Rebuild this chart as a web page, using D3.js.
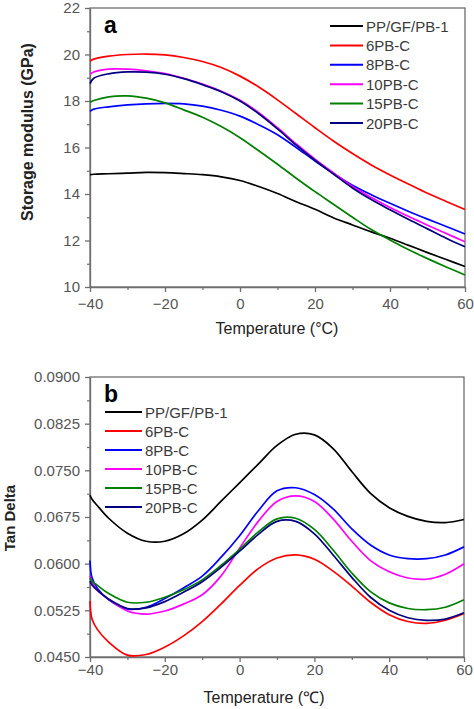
<!DOCTYPE html>
<html>
<head>
<meta charset="utf-8">
<script src="https://cdn.jsdelivr.net/npm/d3@7"></script>
<style>
  html, body { margin: 0; padding: 0; background: #fff; }
  svg { display: block; font-family: "Liberation Sans", Arial, sans-serif; }
</style>
</head>
<body>
<svg id="chart" width="474" height="709"></svg>
<script>
// ---------- DATA ----------
const seriesNames = ["PP/GF/PB-1", "6PB-C", "8PB-C", "10PB-C", "15PB-C", "20PB-C"];
const seriesColors = ["#000000", "#ff0000", "#0000ff", "#ff00ff", "#008000", "#000080"];

// Panel a: Storage modulus (GPa)
const tempsA = [-40, -39, -35, -30, -25, -20, -15, -10, -5, 0, 5, 10, 15, 20, 25, 30, 35, 40, 45, 50, 55, 60];
const modPP   = [14.83, 14.85, 14.87, 14.90, 14.93, 14.92, 14.88, 14.83, 14.74, 14.58, 14.32, 14.02, 13.67, 13.34, 12.97, 12.67, 12.37, 12.10, 11.79, 11.48, 11.18, 10.88];
const mod6PB  = [19.72, 19.80, 19.93, 20.00, 20.02, 19.98, 19.87, 19.70, 19.44, 19.07, 18.60, 18.05, 17.45, 16.85, 16.27, 15.74, 15.25, 14.82, 14.42, 14.03, 13.68, 13.33];
const mod8PB  = [17.55, 17.65, 17.75, 17.83, 17.88, 17.90, 17.88, 17.78, 17.60, 17.35, 16.98, 16.55, 16.00, 15.42, 14.88, 14.38, 13.97, 13.60, 13.25, 12.92, 12.60, 12.28];
const mod10PB = [19.15, 19.25, 19.37, 19.37, 19.30, 19.18, 18.98, 18.73, 18.42, 18.03, 17.50, 16.85, 16.15, 15.50, 14.90, 14.32, 13.85, 13.42, 13.03, 12.66, 12.30, 11.95];
const mod15PB = [17.95, 18.02, 18.18, 18.22, 18.12, 17.92, 17.62, 17.30, 16.90, 16.42, 15.86, 15.28, 14.68, 14.10, 13.55, 13.00, 12.47, 12.02, 11.60, 11.22, 10.86, 10.52];
const mod20PB = [18.75, 18.98, 19.17, 19.25, 19.24, 19.15, 18.96, 18.70, 18.40, 18.00, 17.45, 16.80, 16.10, 15.45, 14.85, 14.26, 13.76, 13.32, 12.90, 12.50, 12.10, 11.73];
const yTicksA = [10, 12, 14, 16, 18, 20, 22];
const yMinorA = [11, 13, 15, 17, 19, 21];

// Panel b: Tan Delta
const tempsB = [-40, -39.5, -38, -35, -30, -25, -20, -15, -10, -5, 0, 5, 10, 15, 20, 25, 30, 35, 40, 45, 50, 55, 60];
const tanPP   = [0.0710, 0.0704, 0.0693, 0.0673, 0.0649, 0.0636, 0.0636, 0.0648, 0.0670, 0.0700, 0.0730, 0.0760, 0.0790, 0.0808, 0.0807, 0.0785, 0.0748, 0.0713, 0.0690, 0.0676, 0.0668, 0.0666, 0.0671];
const tan6PB  = [0.0540, 0.0512, 0.0494, 0.0474, 0.0453, 0.0454, 0.0466, 0.0484, 0.0507, 0.0535, 0.0565, 0.0592, 0.0609, 0.0614, 0.0607, 0.0588, 0.0564, 0.0538, 0.0518, 0.0507, 0.0504, 0.0509, 0.0520];
const tan8PB  = [0.0605, 0.0578, 0.0560, 0.0542, 0.0527, 0.0530, 0.0544, 0.0561, 0.0580, 0.0610, 0.0645, 0.0685, 0.0717, 0.0722, 0.0711, 0.0688, 0.0656, 0.0630, 0.0614, 0.0608, 0.0608, 0.0614, 0.0627];
const tan10PB = [0.0580, 0.0570, 0.0557, 0.0543, 0.0524, 0.0519, 0.0524, 0.0535, 0.0550, 0.0580, 0.0625, 0.0668, 0.0700, 0.0709, 0.0700, 0.0672, 0.0636, 0.0605, 0.0587, 0.0577, 0.0575, 0.0583, 0.0600];
const tan15PB = [0.0577, 0.0572, 0.0565, 0.0552, 0.0538, 0.0538, 0.0546, 0.0558, 0.0574, 0.0597, 0.0623, 0.0651, 0.0672, 0.0673, 0.0655, 0.0622, 0.0585, 0.0555, 0.0537, 0.0528, 0.0526, 0.0530, 0.0542];
const tan20PB = [0.0572, 0.0566, 0.0557, 0.0543, 0.0528, 0.0529, 0.0539, 0.0554, 0.0571, 0.0594, 0.0620, 0.0647, 0.0668, 0.0668, 0.0648, 0.0614, 0.0578, 0.0546, 0.0525, 0.0513, 0.0509, 0.0511, 0.0521];
const yTicksB = [0.0450, 0.0525, 0.0600, 0.0675, 0.0750, 0.0825, 0.0900];
const yMinorB = [0.04875, 0.05625, 0.06375, 0.07125, 0.07875, 0.08625];

const xTicks = [-40, -20, 0, 20, 40, 60];
const xMinor = [-30, -10, 10, 30, 50];

// ---------- DRAW ----------
const svg = d3.select("#chart");
const axisColor = "#6e6e6e";
const tickText = "#555";

function panel(cfg) {
  const g = svg.append("g");
  const x = d3.scaleLinear().domain([-40, 60]).range([cfg.left, cfg.right]);
  const y = d3.scaleLinear().domain(cfg.yDomain).range([cfg.bottom, cfg.top]);

  // frame
  g.append("rect")
    .attr("x", cfg.left).attr("y", cfg.top)
    .attr("width", cfg.right - cfg.left).attr("height", cfg.bottom - cfg.top)
    .attr("fill", "none").attr("stroke", axisColor).attr("stroke-width", 1.3);

  // minor ticks
  g.append("g").attr("transform", `translate(0,${cfg.bottom})`)
    .call(d3.axisBottom(x).tickValues(xMinor).tickSize(3).tickSizeOuter(0).tickFormat(""))
    .call(s => { s.select(".domain").remove(); s.selectAll("line").attr("stroke", axisColor).attr("stroke-width", 1.2); });
  g.append("g").attr("transform", `translate(${cfg.left},0)`)
    .call(d3.axisLeft(y).tickValues(cfg.yMinor).tickSize(3).tickSizeOuter(0).tickFormat(""))
    .call(s => { s.select(".domain").remove(); s.selectAll("line").attr("stroke", axisColor).attr("stroke-width", 1.2); });

  // major axes
  const xa = g.append("g").attr("transform", `translate(0,${cfg.bottom})`)
    .call(d3.axisBottom(x).tickValues(xTicks).tickSize(5).tickSizeOuter(0).tickPadding(cfg.xPad));
  const ya = g.append("g").attr("transform", `translate(${cfg.left},0)`)
    .call(d3.axisLeft(y).tickValues(cfg.yTicks).tickSize(5).tickSizeOuter(0).tickPadding(5).tickFormat(cfg.yFormat));
  [xa, ya].forEach(a => {
    a.select(".domain").attr("stroke", axisColor).attr("stroke-width", 1.3);
    a.selectAll("line").attr("stroke", axisColor).attr("stroke-width", 1.3);
    a.selectAll("text").attr("fill", tickText).attr("font-size", 15)
      .attr("font-family", '"Liberation Sans", Arial, sans-serif');
  });

  // lines
  const line = d3.line()
    .x(d => x(d[0])).y(d => y(d[1]))
    .curve(d3.curveCatmullRom.alpha(0.5));
  cfg.series.forEach((vals, i) => {
    g.append("path")
      .datum(cfg.temps.map((t, j) => [t, vals[j]]))
      .attr("fill", "none")
      .attr("stroke", seriesColors[i])
      .attr("stroke-width", 1.7)
      .attr("d", line);
  });

  // legend
  seriesNames.forEach((name, i) => {
    const ly = cfg.legY + i * cfg.legStep;
    g.append("line")
      .attr("x1", cfg.legX1).attr("x2", cfg.legX2)
      .attr("y1", ly).attr("y2", ly)
      .attr("stroke", seriesColors[i]).attr("stroke-width", 2);
    g.append("text")
      .attr("x", cfg.legX2 + 3).attr("y", ly + 5.5)
      .attr("font-size", 15).attr("fill", "#3a3a3a")
      .text(name);
  });

  // panel letter
  g.append("text")
    .attr("x", 104).attr("y", cfg.letterY)
    .attr("font-size", 23).attr("font-weight", "bold").attr("fill", "#000")
    .text(cfg.letter);

  // axis titles
  g.append("text")
    .attr("x", cfg.xTitleX).attr("y", cfg.xTitleY)
    .attr("text-anchor", "middle").attr("font-size", 16).attr("fill", "#222")
    .text(cfg.xTitle);
  g.append("text")
    .attr("transform", `translate(${cfg.yTitleX},${cfg.yTitleY}) rotate(-90)`)
    .attr("text-anchor", "middle").attr("font-size", cfg.yTitleSize)
    .attr("font-weight", "bold").attr("fill", "#222")
    .text(cfg.yTitle);
}

panel({
  left: 90, right: 465, top: 8, bottom: 287,
  yDomain: [10, 22], yTicks: yTicksA, yMinor: yMinorA, yFormat: d3.format("d"),
  xPad: 6,
  temps: tempsA,
  series: [modPP, mod6PB, mod8PB, mod10PB, mod15PB, mod20PB],
  legX1: 330, legX2: 363, legY: 26, legStep: 19.4,
  letter: "a", letterY: 33,
  xTitle: "Temperature (°C)", xTitleX: 277, xTitleY: 334,
  yTitle: "Storage modulus (GPa)", yTitleX: 33, yTitleY: 132, yTitleSize: 16
});

panel({
  left: 90, right: 464, top: 377, bottom: 657,
  yDomain: [0.045, 0.09], yTicks: yTicksB, yMinor: yMinorB, yFormat: d3.format(".4f"),
  xPad: 2,
  temps: tempsB,
  series: [tanPP, tan6PB, tan8PB, tan10PB, tan15PB, tan20PB],
  legX1: 105, legX2: 142, legY: 412, legStep: 19,
  letter: "b", letterY: 402,
  xTitle: "Temperature (℃)", xTitleX: 264, xTitleY: 703,
  yTitle: "Tan Delta", yTitleX: 15, yTitleY: 518, yTitleSize: 15
});
</script>
</body>
</html>
